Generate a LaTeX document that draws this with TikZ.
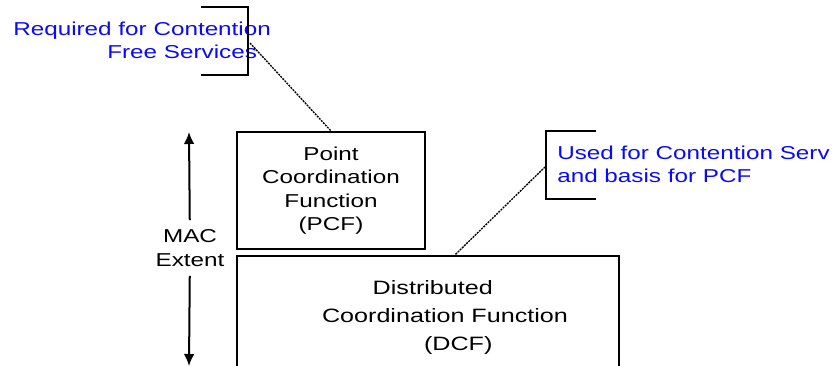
\documentclass[tikz,border=0pt]{standalone}
\usepackage{fontspec}
\setmainfont{Liberation Sans}[FakeStretch=1.3]
\usepackage{xcolor}
\usepackage{tikz}
\usetikzlibrary{positioning,calc,arrows.meta}
\definecolor{NoteBlue}{RGB}{10,10,245}

\begin{document}
\begin{tikzpicture}[x=0.75pt, y=-0.75pt,
                % Box styles
                funcbox/.style={draw=black, line width=1.5pt, align=center, inner sep=0pt, font=\fontsize{14}{17.5}\selectfont},
                boxtext/.style={align=left, inner sep=0pt, font=\fontsize{14.5}{21}\selectfont},
                % Notes and brackets
                notetext/.style={text=NoteBlue, align=left, inner sep=0pt, font=\fontsize{14}{17.5}\selectfont},
                bracket/.style={draw=black, line width=1.5pt},
                leader/.style={draw=black, line width=1pt, dash pattern=on 1.5pt off 0.75pt},
                % MAC extent arrow
                extentarrow/.style={-{Latex[length=9pt, width=8pt]}, draw=black, line width=1.5pt},
                extentlabel/.style={align=center, inner sep=7pt, font=\fontsize{14}{17.5}\selectfont}
            ]
                \useasboundingbox (0,0) rectangle (832,365);
                \clip (0,0) rectangle (832,365);

                % --- FUNCTION BOXES ---
                \node[funcbox, minimum width=141pt, minimum height=87.75pt, anchor=north west] (pcf) at (236,131)
                    {Point\\Coordination\\Function\\(PCF)};
                \node[funcbox, minimum width=286.5pt, minimum height=90pt, anchor=north west] (dcf) at (236,255) {};
                \node[boxtext] (dcftext) at (445,317)
                    {\hspace*{38pt}Distributed\\Coordination Function\\\hspace*{76.5pt}(DCF)};

                % --- MAC EXTENT ---
                \node[extentlabel] (mac) at (190,248) {MAC\\Extent};
                \coordinate (mactop) at (189,132);
                \coordinate (macbot) at (189,366);
                \draw[extentarrow] (mac) -- (mactop);
                \draw[extentarrow] (mac) -- (macbot);

                % --- NOTES ---
                \node[notetext, anchor=west] (reqnote) at (13,40)
                    {Required for Contention\\\hspace*{70.5pt}Free Services};
                \draw[bracket] (201,7) -| (248,75) -- (201,75);
                \coordinate (reqtip) at (250,43);
                \draw[leader] (reqtip) -- (pcf.north);

                \node[notetext, anchor=west] (usednote) at (557,164)
                    {Used for Contention Serv\\and basis for PCF};
                \draw[bracket] (596,131) -| (546,199) -- (596,199);
                \coordinate (usedtip) at (545,167);
                \draw[leader] (usedtip) -- ($(dcf.north west)!0.57!(dcf.north east)$);

            \end{tikzpicture}
\end{document}
